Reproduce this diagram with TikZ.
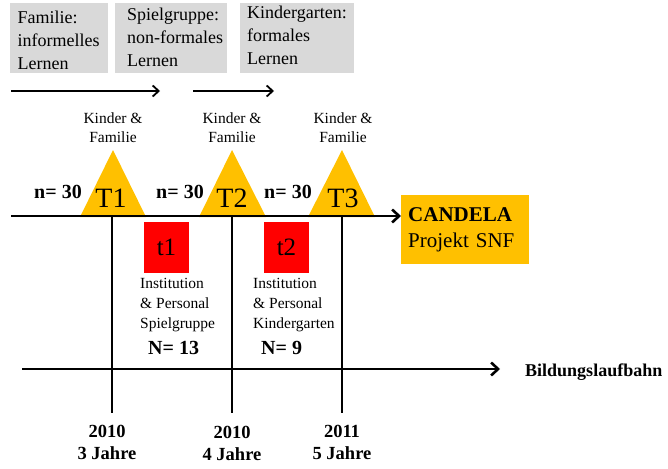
\documentclass[tikz,border=0pt]{standalone}
\usepackage{fontspec}
\setmainfont{Liberation Serif}
\usetikzlibrary{arrows.meta}
\definecolor{boxgray}{HTML}{D9D9D9}
\definecolor{orangey}{HTML}{FFC000}
\begin{document}
\begin{tikzpicture}[x=1pt,y=-1pt,
  graybox/.style={fill=boxgray, draw=none, inner sep=0pt, anchor=north west},
  boxtext/.style={font=\fontsize{18}{23}\selectfont, align=left, inner sep=0pt, anchor=north west},
  tri/.style={fill=orangey},
  kf/.style={font=\fontsize{15.5}{19}\selectfont, align=center, inner sep=0pt, anchor=north},
  tlab/.style={font=\fontsize{28}{32}\selectfont, inner sep=0pt, anchor=base},
  nlab/.style={font=\bfseries\fontsize{20}{24}\selectfont, inner sep=0pt, anchor=base},
  redbox/.style={fill=red, minimum width=45pt, minimum height=51pt, inner sep=0pt, font=\fontsize{25}{29}\selectfont},
  inst/.style={font=\fontsize{15.5}{20}\selectfont, align=left, inner sep=0pt, anchor=north west},
  yearlab/.style={font=\bfseries\fontsize{18.5}{22}\selectfont, align=center, inner sep=0pt, anchor=north},
  axis/.style={line width=2.6pt, -{Straight Barb[length=7pt,width=13pt]}},
  thinarrow/.style={line width=1.8pt, -{Straight Barb[length=6pt,width=11pt]}},
  vline/.style={line width=2.6pt}
]
\useasboundingbox (0,0) rectangle (668,468);

% top boxes
\node[graybox, minimum width=98pt, minimum height=70pt] (b1) at (10,3) {};
\node[graybox, minimum width=112pt, minimum height=70pt] (b2) at (115,3) {};
\node[graybox, minimum width=114pt, minimum height=70pt] (b3) at (240,3) {};
\node[boxtext] (b1t) at (17.5,10.5) {Familie:\\informelles\\Lernen};
\node[boxtext] (b2t) at (127,8) {Spielgruppe:\\non-formales\\Lernen};
\node[boxtext] (b3t) at (247,6) {Kindergarten:\\formales\\Lernen};

% top arrows
\coordinate (ta1s) at (11,91);
\coordinate (ta1e) at (160,91);
\coordinate (ta2s) at (193,91);
\coordinate (ta2e) at (274,91);
\draw[thinarrow] (ta1s) -- (ta1e);
\draw[thinarrow] (ta2s) -- (ta2e);

% triangles
\fill[tri] (80,217) -- (113,150) -- (146,217) -- cycle;
\fill[tri] (199,217) -- (232,150) -- (266,217) -- cycle;
\fill[tri] (308,217) -- (342,150) -- (375,217) -- cycle;

\node[kf] (kf1) at (113,112.5) {Kinder \&\\Familie};
\node[kf] (kf2) at (232,112.5) {Kinder \&\\Familie};
\node[kf] (kf3) at (343,112.5) {Kinder \&\\Familie};

\node[tlab] (T1) at (111,207) {T1};
\node[tlab] (T2) at (232,207) {T2};
\node[tlab] (T3) at (343,207) {T3};

\node[nlab] (n1) at (58,198) {n= 30};
\node[nlab] (n2) at (180,198) {n= 30};
\node[nlab] (n3) at (288,198) {n= 30};

% CANDELA box
\node[fill=orangey, anchor=north west, minimum width=128pt, minimum height=69pt,
      text width=114pt, inner xsep=7pt, inner ysep=0pt, align=left,
      font=\fontsize{21}{26}\selectfont] (cand) at (401,195)
  {\textbf{CANDELA}\\Projekt SNF};

% vertical lines
\coordinate (v1t) at (112,216);
\coordinate (v1b) at (112,413);
\coordinate (v2t) at (232,216);
\coordinate (v2b) at (232,413);
\coordinate (v3t) at (342,216);
\coordinate (v3b) at (342,413);
\draw[vline] (v1t) -- (v1b);
\draw[vline] (v2t) -- (v2b);
\draw[vline] (v3t) -- (v3b);

% main timeline
\coordinate (m0) at (11,216);
\draw[axis] (m0) -- (m0 -| cand.west);

% red boxes
\node[redbox] (r1) at (166.5,247.5) {t1};
\node[redbox] (r2) at (286.5,247.5) {t2};

\node[inst] (i1) at (140,278.5) {Institution\\\& Personal\\Spielgruppe};
\node[inst] (i2) at (253,278.5) {Institution\\\& Personal\\Kindergarten};

\node[nlab, anchor=base west] (N1) at (148,354) {N= 13};
\node[nlab, anchor=base west] (N2) at (261,354) {N= 9};

% bottom timeline
\coordinate (bs) at (22,369);
\coordinate (be) at (500,369);
\draw[axis] (bs) -- (be);
\node[font=\bfseries\fontsize{18}{22}\selectfont, inner sep=0pt, anchor=base west] (bl) at (525,376.5) {Bildungslaufbahn};

% years
\node[yearlab] (y1) at (107,425) {2010\\3 Jahre};
\node[yearlab] (y2) at (232,426) {2010\\4 Jahre};
\node[yearlab] (y3) at (342,425) {2011\\5 Jahre};
\end{tikzpicture}
\end{document}
